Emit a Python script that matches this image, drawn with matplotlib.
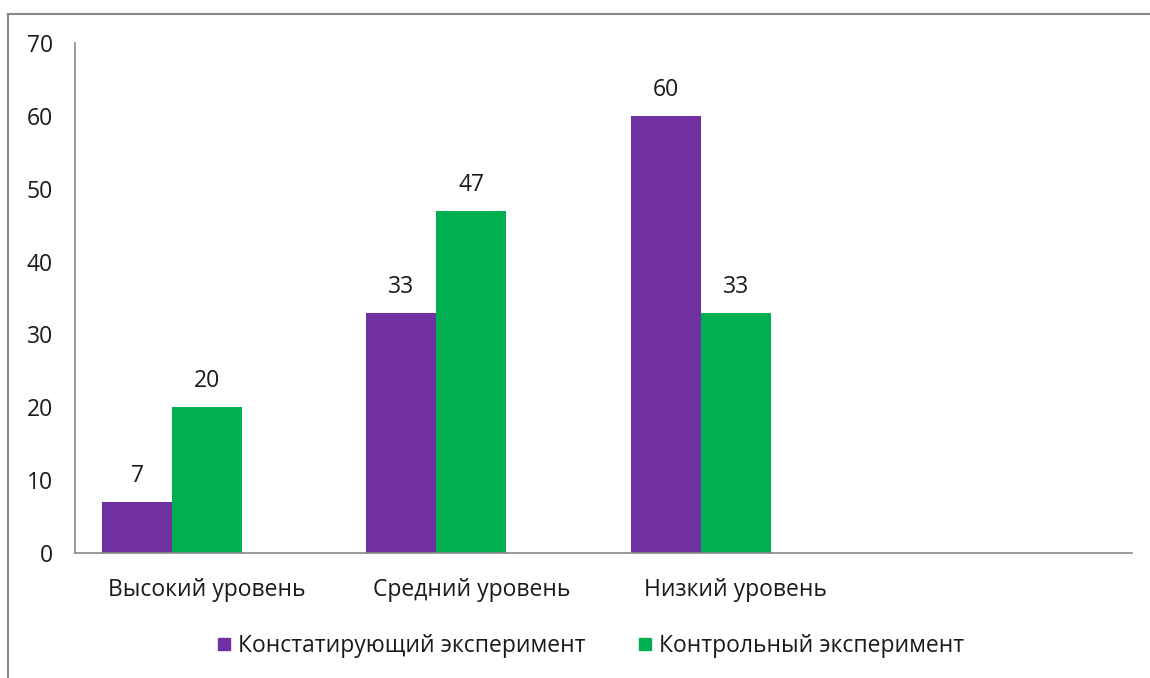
import matplotlib
matplotlib.use("Agg")
import matplotlib.pyplot as plt
from matplotlib.lines import Line2D
import numpy as np

plt.rcParams['font.family'] = ['Open Sans', 'DejaVu Sans']

categories = ["Высокий уровень", "Средний уровень", "Низкий уровень", ""]
series_names = ["Констатирующий эксперимент", "Контрольный эксперимент"]
stating = [7, 33, 60]
control = [20, 47, 33]
colors = ["#7030A0", "#00B050"]

fig = plt.figure(figsize=(11.5, 6.78), dpi=100)
ax = fig.add_axes([75 / 1150, 1 - 553 / 678, (1132 - 75) / 1150, (553 - 43) / 678])

x = np.arange(len(stating))
w = 0.265
b1 = ax.bar(x - w, stating, w, color=colors[0], label=series_names[0])
b2 = ax.bar(x, control, w, color=colors[1], label=series_names[1])

fs = 16.5
for bars in (b1, b2):
    for rect in bars:
        h = rect.get_height()
        ax.annotate(str(int(h)), (rect.get_x() + rect.get_width() / 2, h),
                    xytext=(0, 10), textcoords="offset points",
                    ha="center", va="bottom", fontsize=fs, color="#1a1a1a")

ax.set_xlim(-0.5, 3.5)
ax.set_ylim(0, 70)
ax.set_yticks(range(0, 71, 10))
ax.set_xticks(range(len(categories)))
ax.set_xticklabels(categories)
ax.tick_params(axis="both", length=0, labelsize=fs, colors="#1a1a1a")
ax.tick_params(axis="y", pad=16)
ax.tick_params(axis="x", pad=18)
for s in ("top", "right"):
    ax.spines[s].set_visible(False)
for s in ("left", "bottom"):
    ax.spines[s].set_color("#888888")
    ax.spines[s].set_linewidth(1.2)

handles = [Line2D([], [], marker="s", linestyle="none", markersize=9,
                  markerfacecolor=c, markeredgecolor=c) for c in colors]
fig.legend(handles, series_names, loc="center", bbox_to_anchor=(587 / 1150, 1 - 646 / 678),
           ncol=2, frameon=False, fontsize=fs, handletextpad=0.0, columnspacing=2.0,
           handlelength=1.2, labelcolor="#1a1a1a")

# outer chart border (only top and left edges visible in the crop)
fig.add_artist(Line2D([7.5 / 1150, 1], [1 - 13.5 / 678] * 2, color="#888888", lw=1.5))
fig.add_artist(Line2D([7.5 / 1150] * 2, [0, 1 - 13.5 / 678], color="#888888", lw=1.5))

fig.savefig("out.png", dpi=100)
